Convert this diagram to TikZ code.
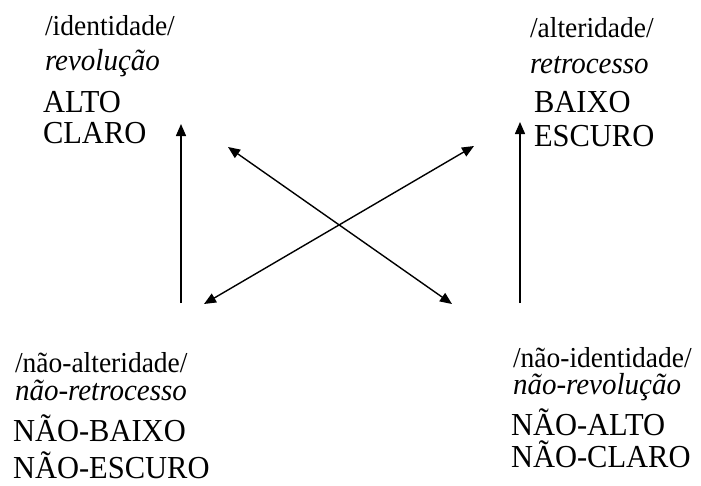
\documentclass[tikz,border=0pt]{standalone}
\usepackage{fontspec}
\usepackage{graphicx}
\setmainfont{Liberation Serif}
\usetikzlibrary{arrows.meta}
\newcommand{\vstr}[1]{\scalebox{1}[1.05]{#1}}
\begin{document}
\begin{tikzpicture}[x=1pt,y=-1pt,
  lbl/.style={anchor=base west,inner sep=0pt,outer sep=0pt},
  slashtxt/.style={lbl,font=\fontsize{27.5}{30}\selectfont},
  itxt/.style={lbl,font=\fontsize{29}{30}\selectfont\itshape},
  captxt/.style={lbl,font=\fontsize{30.5}{32}\selectfont},
  arr/.style={line width=1.4pt,-{Triangle[length=12pt,width=10pt]}},
  darr/.style={line width=1.4pt,{Triangle[length=12pt,width=10pt]}-{Triangle[length=12pt,width=10pt]}}]
\useasboundingbox (0,0) rectangle (701,485);
% top-left
\node[slashtxt] (tl1) at (45,35) {\vstr{/identidade/}};
\node[itxt] (tl2) at (45,70) {\vstr{revolução}};
\node[captxt] (tl3) at (43,112) {\vstr{ALTO}};
\node[captxt] (tl4) at (43,143) {\vstr{CLARO}};
% top-right
\node[slashtxt] (tr1) at (530,37) {\vstr{/alteridade/}};
\node[itxt] (tr2) at (530,73) {\vstr{retrocesso}};
\node[captxt] (tr3) at (534,112) {\vstr{BAIXO}};
\node[captxt] (tr4) at (534,146) {\vstr{ESCURO}};
% bottom-left
\node[slashtxt] (bl1) at (15,372) {\vstr{/não-alteridade/}};
\node[itxt] (bl2) at (15,400) {\vstr{não-retrocesso}};
\node[captxt] (bl3) at (13,441) {\vstr{NÃO-BAIXO}};
\node[captxt] (bl4) at (13,478) {\vstr{NÃO-ESCURO}};
% bottom-right
\node[slashtxt] (br1) at (513,367) {\vstr{/não-identidade/}};
\node[itxt] (br2) at (513,394) {\vstr{não-revolução}};
\node[captxt] (br3) at (511,435) {\vstr{NÃO-ALTO}};
\node[captxt] (br4) at (511,467) {\vstr{NÃO-CLARO}};
% arrow end points
\coordinate (lv0) at (181,303);
\coordinate (lv1) at (181,124);
\coordinate (rv0) at (520,303);
\coordinate (rv1) at (520,122);
\coordinate (da0) at (228,147);
\coordinate (da1) at (452,304);
\coordinate (db0) at (204,304);
\coordinate (db1) at (474,146);
\draw[arr] (lv0) -- (lv1);
\draw[arr] (rv0) -- (rv1);
\draw[darr] (da0) -- (da1);
\draw[darr] (db0) -- (db1);
\end{tikzpicture}
\end{document}
